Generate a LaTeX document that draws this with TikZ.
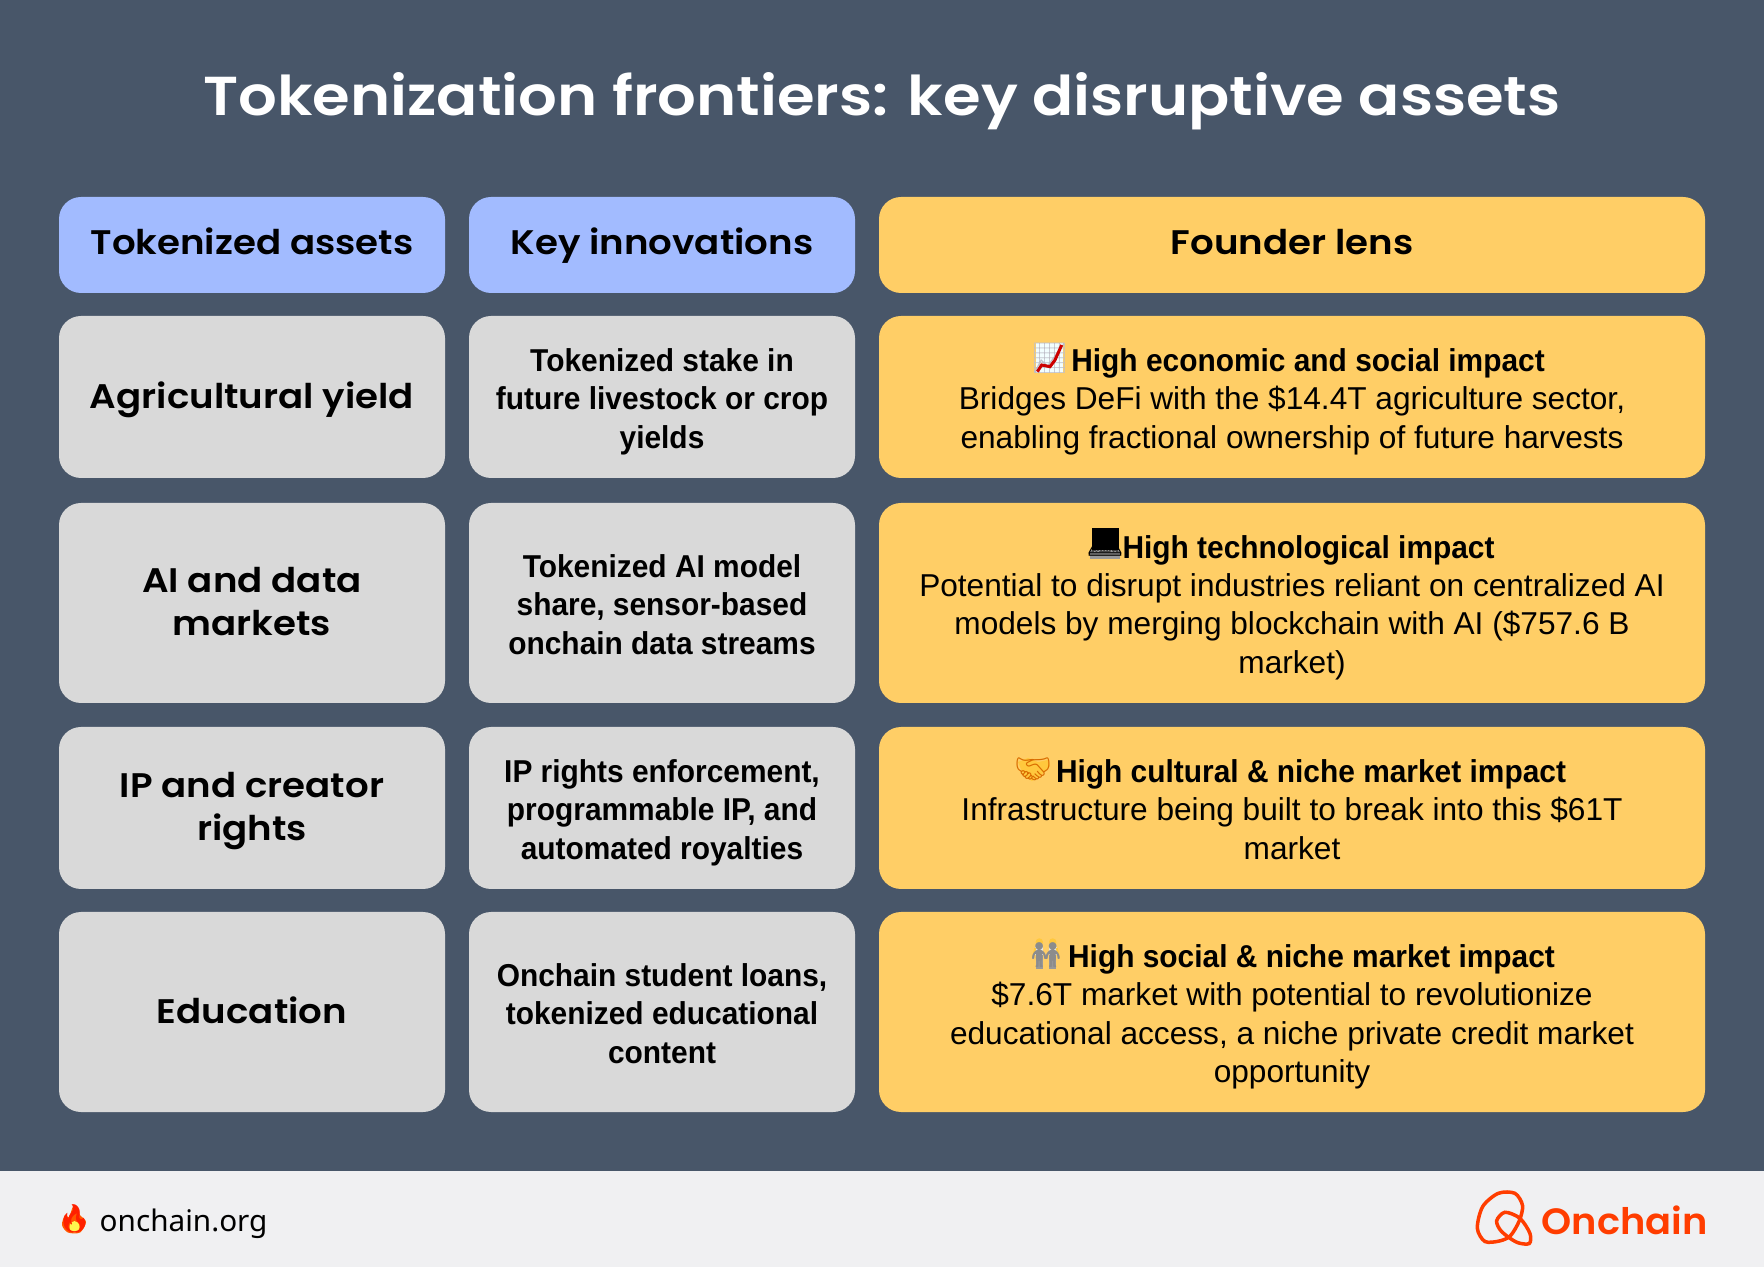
\documentclass[tikz,border=0pt]{standalone}
\usepackage{fontspec}
\setmainfont{Liberation Sans}
\newfontfamily\medfamily[FakeStretch=0.945]{Liberation Sans}
\def\medfont{\medfamily\bfseries}
\newfontfamily\headfont[FakeStretch=1.09]{Poppins SemiBold}
\newfontfamily\titlefont[FakeStretch=1.11]{Poppins SemiBold}
\newfontfamily\logofont[FakeStretch=1.05]{Poppins SemiBold}
\newfontfamily\footfont{Noto Sans}
\newfontfamily\emojifont{Noto Emoji}
\definecolor{slatebg}{HTML}{485669}
\definecolor{footbg}{HTML}{F0F0F2}
\definecolor{headblue}{HTML}{A2BBFF}
\definecolor{lensgold}{HTML}{FFCE66}
\definecolor{cellgrey}{HTML}{D9D9D9}
\definecolor{logored}{HTML}{FF3D00}
\definecolor{emojiyellow}{HTML}{FFC83D}
\tikzset{
	cellbox/.style={rounded corners=0.22cm, inner sep=0pt, align=center, text=black},
	headtext/.style={font=\headfont\fontsize{9.7}{12.2}\selectfont},
	bodytext/.style={font=\fontsize{9}{10.87}\selectfont},
	glyph/.style={font=\emojifont\fontsize{8.5}{8.5}\selectfont, inner sep=0pt},
}
\def\headlines#1#2{\rule{0pt}{#1pt}#2\rule[-3.66pt]{0pt}{3.66pt}}
\def\bodylines#1{\rule{0pt}{10.6pt}#1\rule[-3.26pt]{0pt}{3.26pt}}
\begin{document}
\begin{tikzpicture}
	%%%%% START %%%%%
	\useasboundingbox (0, 0) rectangle (17.64, 12.67);
	\fill[slatebg] (0, 0) rectangle (17.64, 12.67);
	\fill[footbg] (0, 0) rectangle (17.64, 0.96);

	\node[text=white, font=\titlefont\fontsize{15.6}{18}\selectfont] (title) at (8.82, 11.66) {Tokenization frontiers: key disruptive assets};

	% header row
	\node[cellbox, headtext, fill=headblue, minimum width=3.86cm, minimum height=0.96cm] (assets) at (2.52, 10.22) {\headlines{9}{Tokenized assets}};
	\node[cellbox, headtext, fill=headblue, minimum width=3.86cm, minimum height=0.96cm] (innov) at (6.62, 10.22) {\headlines{9}{Key innovations}};
	\node[cellbox, headtext, fill=lensgold, minimum width=8.26cm, minimum height=0.96cm] (lens) at (12.92, 10.22) {\headlines{9}{Founder lens}};

	% agriculture
	\node[cellbox, headtext, fill=cellgrey, minimum width=3.86cm, minimum height=1.62cm] (agri) at (2.52, 8.70) {\headlines{10.14}{Agricultural yield}};
	\node[cellbox, bodytext, fill=cellgrey, minimum width=3.86cm, minimum height=1.62cm] (agrikey) at (6.62, 8.70) {\bodylines{\medfont Tokenized stake in\\\medfont future livestock or crop\\\medfont yields}};
	\node[cellbox, bodytext, fill=lensgold, minimum width=8.26cm, minimum height=1.62cm] (agrilens) at (12.92, 8.70) {\bodylines{\hspace*{0.32cm}\medfont High economic and social impact\\Bridges DeFi with the \$14.4T agriculture sector,\\enabling fractional ownership of future harvests}};

	% AI
	\node[cellbox, headtext, fill=cellgrey, minimum width=3.86cm, minimum height=2.00cm] (ai) at (2.52, 6.64) {\headlines{9.9}{AI and data\\markets}};
	\node[cellbox, bodytext, fill=cellgrey, minimum width=3.86cm, minimum height=2.00cm] (aikey) at (6.62, 6.64) {\bodylines{\medfont Tokenized AI model\\\medfont share, sensor-based\\\medfont onchain data streams}};
	\node[cellbox, bodytext, fill=lensgold, minimum width=8.26cm, minimum height=2.00cm] (ailens) at (12.92, 6.64) {\bodylines{\hspace*{0.33cm}\medfont High technological impact\\Potential to disrupt industries reliant on centralized AI\\models by merging blockchain with AI (\$757.6 B\\market)}};

	% IP
	\node[cellbox, headtext, fill=cellgrey, minimum width=3.86cm, minimum height=1.62cm] (ip) at (2.52, 4.59) {\headlines{9.9}{IP and creator\\rights}};
	\node[cellbox, bodytext, fill=cellgrey, minimum width=3.86cm, minimum height=1.62cm] (ipkey) at (6.62, 4.59) {\bodylines{\medfont IP rights enforcement,\\\medfont programmable IP, and\\\medfont automated royalties}};
	\node[cellbox, bodytext, fill=lensgold, minimum width=8.26cm, minimum height=1.62cm] (iplens) at (12.92, 4.59) {\bodylines{\hspace*{0.38cm}\medfont High cultural \& niche market impact\\Infrastructure being built to break into this \$61T\\market}};

	% education
	\node[cellbox, headtext, fill=cellgrey, minimum width=3.86cm, minimum height=2.00cm] (edu) at (2.52, 2.55) {\headlines{10.14}{Education}};
	\node[cellbox, bodytext, fill=cellgrey, minimum width=3.86cm, minimum height=2.00cm] (edukey) at (6.62, 2.55) {\bodylines{\medfont Onchain student loans,\\\medfont tokenized educational\\\medfont content}};
	\node[cellbox, bodytext, fill=lensgold, minimum width=8.26cm, minimum height=2.00cm] (edulens) at (12.92, 2.55) {\bodylines{\hspace*{0.39cm}\medfont High social \& niche market impact\\\$7.6T market with potential to revolutionize\\educational access, a niche private credit market\\opportunity}};

	% chart emoji
	\fill[blue!8!cyan!5!white] (10.36, 8.94) rectangle (10.63, 9.24);
	\node[glyph, text=blue!15!black!25] (chart) at (10.495, 9.09) {📈};
	\draw[red!80!black, line width=0.03cm] (10.373, 8.953) -- (10.417, 9.02) -- (10.50, 9.003) -- (10.55, 9.07) -- (10.617, 9.22);

	% laptop emoji
	\fill[black] (10.92, 7.17) rectangle (11.19, 7.39);
	\fill[black!40] (10.90, 7.08) rectangle (11.20, 7.17);
	\node[glyph, text=black] (laptop) at (11.05, 7.235) {💻};

	% handshake emoji
	\fill[emojiyellow] (10.18, 5.05) -- (10.28, 5.09) -- (10.38, 5.05) -- (10.48, 5.07) -- (10.50, 5.01) -- (10.40, 4.91) -- (10.32, 4.86) -- (10.24, 4.91) -- cycle;
	\node[glyph, text=orange!85!black] (shake) at (10.33, 4.98) {🤝};

	% people emoji
	\foreach \c in {10.393, 10.527} {
		\fill[emojiyellow] (\c, 3.25) circle (0.037);
		\fill[black!10] (\c-0.04, 3.12) rectangle (\c+0.04, 3.20);
		\fill[black!40] (\c-0.035, 2.98) rectangle (\c+0.035, 3.12);
	}
	\draw[emojiyellow, line width=0.02cm] (10.353, 3.19) -- (10.33, 3.09);
	\draw[emojiyellow, line width=0.02cm] (10.567, 3.19) -- (10.59, 3.09);
	\node[glyph, text=black!45, font=\emojifont\fontsize{7}{7}\selectfont] (manleft) at (10.393, 3.12) {🧍};
	\node[glyph, text=black!45, font=\emojifont\fontsize{7}{7}\selectfont] (manright) at (10.527, 3.12) {🧍};

	% footer
	\fill[orange!70!red] plot[smooth cycle] coordinates {(0.74, 0.62) (0.80, 0.52) (0.86, 0.45) (0.80, 0.345) (0.68, 0.345) (0.62, 0.42) (0.65, 0.52) (0.69, 0.50)};
	\fill[yellow!70!white] (0.745, 0.40) ellipse (0.05 and 0.06);
	\node[glyph, text=red!75!orange, font=\emojifont\fontsize{8}{8}\selectfont] (flame) at (0.745, 0.48) {🔥};
	\node[anchor=west, font=\footfont\fontsize{8.45}{10}\selectfont, inner sep=0pt] (site) at (0.99, 0.43) {onchain.org};

	\begin{scope}[shift={(14.70, 0.82)}, x=0.00333cm, y=-0.00333cm]
		\draw[logored, line width=0.035cm] plot[smooth cycle] coordinates {(122, 152) (90, 168) (45, 170) (22, 130) (38, 65) (85, 25) (135, 25) (158, 62) (148, 108)};
		\draw[logored, line width=0.035cm] plot[smooth cycle] coordinates {(80, 108) (105, 82) (150, 100) (180, 145) (178, 176) (140, 172) (95, 140)};
	\end{scope}
	\node[anchor=west, text=logored, font=\logofont\fontsize{10.4}{12}\selectfont, inner sep=0pt] (brand) at (15.41, 0.47) {Onchain};
	%%%%% END %%%%%
\end{tikzpicture}
\end{document}
